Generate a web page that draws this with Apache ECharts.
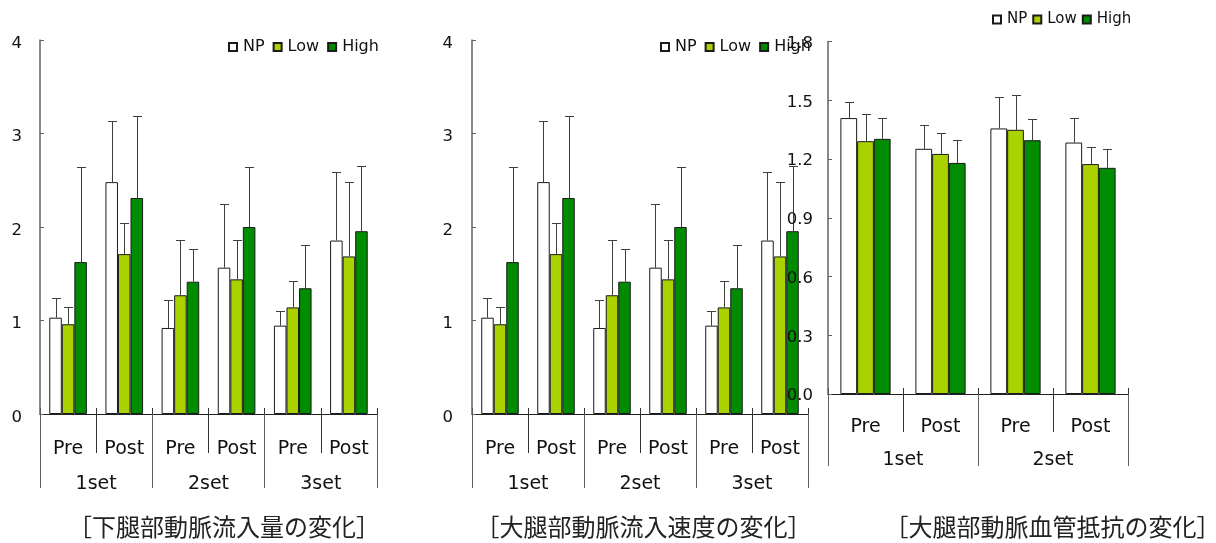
<!DOCTYPE html>
<html>
<head>
<meta charset="utf-8">
<script src="https://cdn.jsdelivr.net/npm/echarts@6/dist/echarts.min.js"></script>
<style>
html,body{margin:0;padding:0;background:#fff;}
#c{width:1216px;height:543px;}
</style>
</head>
<body>
<div id="c"></div>
<script>
// ---- Chart 1: 下腿部動脈流入量 ----
const categories1 = ['Pre','Post','Pre','Post','Pre','Post'];
const groups1 = ['1set','2set','3set'];
const np1 = [1.03, 2.48, 0.92, 1.565, 0.945, 1.855];
const npErr1 = [0.215, 0.65, 0.295, 0.685, 0.155, 0.735];
const low1 = [0.96, 1.71, 1.27, 1.44, 1.14, 1.685];
const lowErr1 = [0.18, 0.33, 0.59, 0.42, 0.285, 0.795];
const high1 = [1.625, 2.31, 1.415, 2.0, 1.345, 1.955];
const highErr1 = [1.015, 0.88, 0.355, 0.64, 0.465, 0.695];
const yTicks1 = [0, 1, 2, 3, 4];

// ---- Chart 2: 大腿部動脈流入速度 ----
const categories2 = ['Pre','Post','Pre','Post','Pre','Post'];
const groups2 = ['1set','2set','3set'];
const np2 = [1.03, 2.48, 0.92, 1.565, 0.945, 1.855];
const npErr2 = [0.215, 0.65, 0.295, 0.685, 0.155, 0.735];
const low2 = [0.96, 1.71, 1.27, 1.44, 1.14, 1.685];
const lowErr2 = [0.18, 0.33, 0.59, 0.42, 0.285, 0.795];
const high2 = [1.625, 2.31, 1.415, 2.0, 1.345, 1.955];
const highErr2 = [1.015, 0.88, 0.355, 0.64, 0.465, 0.695];
const yTicks2 = [0, 1, 2, 3, 4];

// ---- Chart 3: 大腿部動脈血管抵抗 ----
const categories3 = ['Pre','Post','Pre','Post'];
const groups3 = ['1set','2set'];
const np3 = [1.409, 1.252, 1.356, 1.284];
const npErr3 = [0.081, 0.123, 0.16, 0.125];
const low3 = [1.291, 1.226, 1.349, 1.174];
const lowErr3 = [0.141, 0.109, 0.18, 0.087];
const high3 = [1.303, 1.18, 1.296, 1.155];
const highErr3 = [0.106, 0.116, 0.106, 0.097];
const yTicks3 = [0.0, 0.3, 0.6, 0.9, 1.2, 1.5, 1.8];

const seriesNames = ['NP','Low','High'];
const titles = ['［下腿部動脈流入量の変化］','［大腿部動脈流入速度の変化］','［大腿部動脈血管抵抗の変化］'];

const COLORS = ['#ffffff', '#aad200', '#008c00'];
const FONT = 'DejaVu Sans';
const AXIS_GRAY = '#5c655c';

const charts = [
  {cats: categories1, groups: groups1, vals: [np1, low1, high1], errs: [npErr1, lowErr1, highErr1], ticks: yTicks1, dec: 0,
   grid: {left: 40, top: 40, width: 337, height: 374}, labelMargin: 18, labelShift: 7,
   legend: {left: 223, top: 34, font: 16, gap: 8},
   catMargin: 26, groupMargin: 61, catTick: 39, groupTick: 74, title: {x: 219, y: 510}},
  {cats: categories2, groups: groups2, vals: [np2, low2, high2], errs: [npErr2, lowErr2, highErr2], ticks: yTicks2, dec: 0,
   grid: {left: 472, top: 40, width: 336, height: 374}, labelMargin: 19, labelShift: 7,
   legend: {left: 655, top: 34, font: 16, gap: 8},
   catMargin: 26, groupMargin: 61, catTick: 39, groupTick: 74, title: {x: 638.5, y: 510}},
  {cats: categories3, groups: groups3, vals: [np3, low3, high3], errs: [npErr3, lowErr3, highErr3], ticks: yTicks3, dec: 1,
   grid: {left: 828, top: 41.5, width: 300, height: 352.5}, labelMargin: 15, labelShift: 4,
   legend: {left: 987, top: 7, font: 15, gap: 5},
   catMargin: 24, groupMargin: 57, catTick: 38, groupTick: 72, title: {x: 1047.5, y: 510}}
];

const grids = [], xAxes = [], yAxes = [], series = [], legends = [], titleArr = [];

function errRender(idx) {
  return function (params, api) {
    const x = api.value(0), v = api.value(1), e = api.value(2);
    const cw = api.size([1, 0])[0];
    const bw = cw * 0.67 / 3;
    const base = api.coord([x, v]);
    const top = api.coord([x, v + e]);
    const cx = Math.round(base[0] + (idx - 1) * bw) + 0.5;
    const ty = Math.round(top[1]) + 0.5;
    const st = {stroke: '#3a403a', lineWidth: 1};
    return {type: 'group', children: [
      {type: 'line', shape: {x1: cx, y1: base[1], x2: cx, y2: ty}, style: st},
      {type: 'line', shape: {x1: cx - 4.5, y1: ty, x2: cx + 4.5, y2: ty}, style: st}
    ]};
  };
}

charts.forEach(function (c, g) {
  grids.push(Object.assign({containLabel: false}, c.grid));
  const xi = xAxes.length;
  // primary categories
  xAxes.push({type: 'category', gridIndex: g, data: c.cats, position: 'bottom', z: 5,
    axisLine: {show: true, lineStyle: {color: '#222', width: 1}},
    axisTick: {show: true, interval: 0, length: c.catTick, lineStyle: {color: '#333'}},
    axisLabel: {interval: 0, margin: c.catMargin, fontFamily: FONT, fontSize: 19, color: '#111'}
  });
  // group categories
  xAxes.push({type: 'category', gridIndex: g, data: c.groups, position: 'bottom', z: 5,
    axisLine: {show: false},
    axisTick: {show: true, interval: 0, length: c.groupTick, lineStyle: {color: AXIS_GRAY}},
    axisLabel: {interval: 0, margin: c.groupMargin, fontFamily: FONT, fontSize: 19, color: '#111'}
  });
  // short separators above the axis
  xAxes.push({type: 'category', gridIndex: g, data: c.cats, position: 'bottom', z: 5,
    axisLine: {show: false},
    axisTick: {show: true, inside: true, interval: 0, length: 6, lineStyle: {color: '#333'}},
    axisLabel: {show: false}
  });
  const ymax = c.ticks[c.ticks.length - 1];
  const step = c.ticks[1] - c.ticks[0];
  yAxes.push({type: 'value', gridIndex: g, min: c.ticks[0], max: ymax, interval: step, z: 6,
    splitLine: {show: false},
    axisLine: {show: true, lineStyle: {color: AXIS_GRAY, width: 1.5}},
    axisTick: {show: true, inside: true, length: 4, lineStyle: {color: AXIS_GRAY}},
    axisLabel: {margin: c.labelMargin, fontFamily: FONT, fontSize: 16.5, color: '#111',
      verticalAlign: 'top', lineHeight: c.labelShift,
      formatter: function (v) { return v.toFixed(c.dec); }}
  });
  for (let i = 0; i < 3; i++) {
    series.push({type: 'bar', name: seriesNames[i], xAxisIndex: xi, yAxisIndex: g,
      data: c.vals[i], barGap: '0%', barCategoryGap: '33%',
      itemStyle: {color: COLORS[i], borderColor: '#1a1a1a', borderWidth: 1},
      emphasis: {disabled: true}, z: 2});
  }
  for (let i = 0; i < 3; i++) {
    series.push({type: 'custom', name: 'err' + seriesNames[i] + g, xAxisIndex: xi, yAxisIndex: g,
      data: c.vals[i].map(function (v, k) { return [k, v, c.errs[i][k]]; }),
      renderItem: errRender(i), z: 3, silent: true});
  }
  legends.push({left: c.legend.left, top: c.legend.top, data: seriesNames, icon: 'rect',
    itemWidth: 8, itemHeight: 8, itemGap: c.legend.gap, selectedMode: false,
    textStyle: {fontFamily: FONT, fontSize: c.legend.font, color: '#111', padding: [0, 0, 0, 1]}});
  titleArr.push({text: titles[g], left: c.title.x, top: c.title.y, textAlign: 'center',
    textStyle: {fontFamily: 'Noto Sans CJK JP', fontSize: 24, fontWeight: 'normal', color: '#222'}});
});

const chart = echarts.init(document.getElementById('c'), null, {renderer: 'canvas'});
chart.setOption({
  animation: false,
  backgroundColor: '#ffffff',
  title: titleArr,
  legend: legends,
  grid: grids,
  xAxis: xAxes,
  yAxis: yAxes,
  series: series
});
</script>
</body>
</html>
